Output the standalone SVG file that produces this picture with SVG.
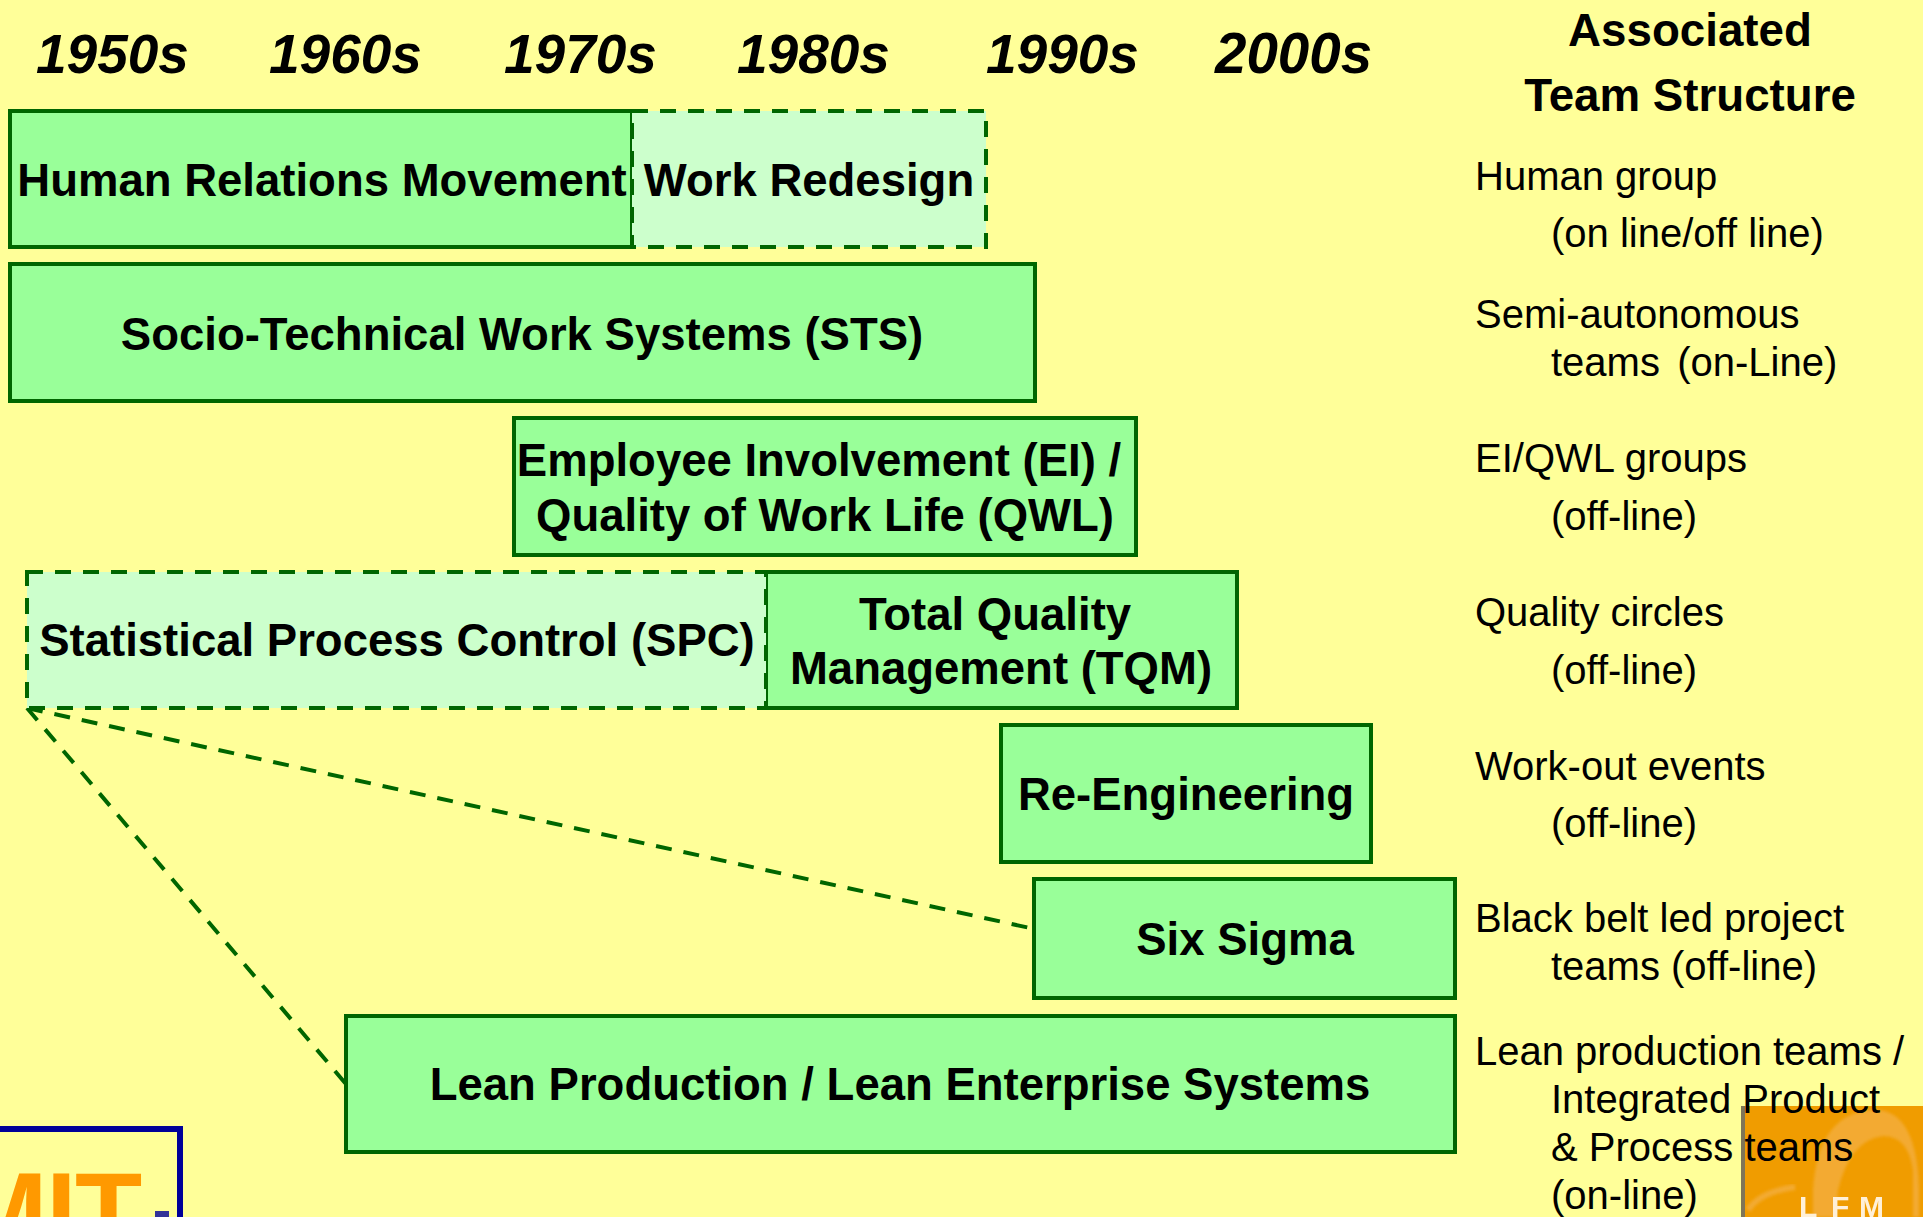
<svg xmlns="http://www.w3.org/2000/svg" width="1923" height="1217" viewBox="0 0 1923 1217">
<defs><filter id="soft" x="-10%" y="-10%" width="120%" height="120%"><feGaussianBlur stdDeviation="1.6"/></filter>
<filter id="soft2" x="-10%" y="-10%" width="120%" height="120%"><feGaussianBlur stdDeviation="0.7"/></filter></defs>
<style>
text{font-family:"Liberation Sans",Arial,sans-serif;fill:#000}
.y{font-size:55px;font-weight:bold;font-style:italic}
.h{font-size:45.7px;font-weight:bold;text-anchor:middle}
.b{font-size:45.5px;font-weight:bold;text-anchor:middle}
.r{font-size:40px;white-space:pre}
.s{fill:#99ff99;stroke:#006600;stroke-width:4}
.d{fill:#ccffcc;stroke:#006600;stroke-width:4;stroke-dasharray:16 12}
.c{fill:none;stroke:#006600;stroke-width:4;stroke-dasharray:16 12}
</style>
<rect width="1923" height="1217" fill="#ffff99"/>
<g id="logo-mit">
<rect x="-10" y="1129" width="190" height="110" fill="#ffff99" stroke="#000099" stroke-width="6"/>
<text x="-44 46 75" y="1249" style="font-size:110px;font-weight:bold;fill:#ff9900">MIT</text>
<rect x="155" y="1211" width="14" height="6" fill="#333399"/>
</g>
<g id="logo-lfm">
<rect x="1743" y="1106" width="180" height="111" fill="#f09c00"/>
<path d="M1813 1217V1190Q1818 1110 1877 1110Q1917 1112 1919 1190V1217H1913V1170Q1908 1136 1883 1136Q1850 1140 1838 1190L1836 1217Z" fill="#f3aa30" filter="url(#soft)"/>
<path d="M1748 1210Q1760 1192 1795 1187" fill="none" stroke="#f3aa30" stroke-width="6" filter="url(#soft)"/>
<rect x="1741" y="1106" width="4" height="111" fill="#7f7557"/>
<text x="1799 1831 1859" y="1217" style="font-size:30px;font-weight:bold;fill:#fff0d8" filter="url(#soft2)">LFM</text>
</g>
<g id="decades">
<text class="y" x="36" y="73">1950s</text>
<text class="y" x="269" y="73">1960s</text>
<text class="y" x="504" y="73">1970s</text>
<text class="y" x="737" y="73">1980s</text>
<text class="y" x="986" y="73">1990s</text>
<text class="y" x="1215" y="73" style="font-size:56.5px">2000s</text>
</g>
<g id="header">
<text class="h" x="1690" y="46">Associated</text>
<text class="h" x="1690" y="111">Team Structure</text>
</g>
<g id="connectors">
<path class="c" d="M27 708L1030 928"/>
<path class="c" d="M27 708L346 1084"/>
</g>
<g id="node-hrm"><rect class="s" x="10" y="111" width="622" height="136"/><text class="b" x="322" y="196">Human Relations Movement</text></g>
<g id="node-wr"><rect class="d" x="632" y="111" width="354" height="136"/><text class="b" x="809" y="196">Work Redesign</text></g>
<g id="node-sts"><rect class="s" x="10" y="264" width="1025" height="137"/><text class="b" x="522" y="350">Socio-Technical Work Systems (STS)</text></g>
<g id="node-ei"><rect class="s" x="514" y="418" width="622" height="137"/><text class="b" x="819" y="476">Employee Involvement (EI) /</text><text class="b" x="825" y="531">Quality of Work Life (QWL)</text></g>
<g id="node-tqm"><rect class="s" x="766" y="572" width="471" height="136"/><text class="b" x="995" y="630">Total Quality</text><text class="b" x="1001" y="684">Management (TQM)</text></g>
<g id="node-spc"><rect class="d" x="27" y="572" width="739" height="136"/><text class="b" x="397" y="656">Statistical Process Control (SPC)</text></g>
<g id="node-re"><rect class="s" x="1001" y="725" width="370" height="137"/><text class="b" x="1186" y="810">Re-Engineering</text></g>
<g id="node-ss"><rect class="s" x="1034" y="879" width="421" height="119"/><text class="b" x="1245" y="955">Six Sigma</text></g>
<g id="node-lean"><rect class="s" x="346" y="1016" width="1109" height="136"/><text class="b" x="900" y="1100">Lean Production / Lean Enterprise Systems</text></g>
<g id="team-structures">
<text class="r" x="1475" y="190">Human group</text>
<text class="r" x="1551" y="247">(on line/off line)</text>
<text class="r" x="1475" y="328">Semi-autonomous</text>
<text class="r" x="1551" y="376" style="word-spacing:-2.5px">teams  (on-Line)</text>
<text class="r" x="1475" y="472">EI/QWL groups</text>
<text class="r" x="1551" y="530">(off-line)</text>
<text class="r" x="1475" y="626">Quality circles</text>
<text class="r" x="1551" y="684">(off-line)</text>
<text class="r" x="1475" y="780">Work-out events</text>
<text class="r" x="1551" y="837">(off-line)</text>
<text class="r" x="1475" y="932">Black belt led project</text>
<text class="r" x="1551" y="980">teams (off-line)</text>
<text class="r" x="1475" y="1065">Lean production teams /</text>
<text class="r" x="1551" y="1113">Integrated Product</text>
<text class="r" x="1551" y="1161">&amp; Process teams</text>
<text class="r" x="1551" y="1209">(on-line)</text>
</g>
</svg>
